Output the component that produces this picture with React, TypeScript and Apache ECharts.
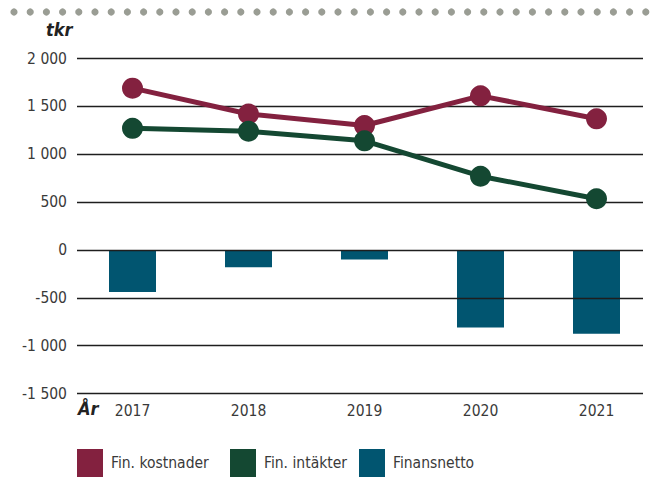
import React, { useEffect, useRef } from "react";
import * as echarts from "echarts";

const years = ["2017", "2018", "2019", "2020", "2021"];
const finKostnader = [1690, 1420, 1300, 1610, 1370];
const finIntakter = [1270, 1240, 1140, 770, 535];
const finansnetto = [-440, -180, -100, -810, -875];
const yTicks = { min: -1500, max: 2000, interval: 500 };
const legendNames = ["Fin. kostnader", "Fin. intäkter", "Finansnetto"];

const FONT = "'DejaVu Sans Condensed', 'Roboto', sans-serif";
const TEXT = "#3a3a3a";

export default function App() {
  const ref = useRef<HTMLDivElement>(null);
  useEffect(() => {
    if (!ref.current) return;
    const chart = echarts.init(ref.current, undefined, { renderer: "svg" });
    const dots: any[] = [];
    for (let i = 0; i < 41; i++) {
      dots.push({
        type: "circle",
        shape: { cx: 14 + i * 16.2, cy: 12, r: 3.6 },
        style: { fill: "#9a9d94" },
        silent: true,
      });
    }
    const fmt = (v: number) => {
      const s = Math.abs(v).toString();
      const t = s.length > 3 ? s.slice(0, s.length - 3) + " " + s.slice(-3) : s;
      return (v < 0 ? "-" : "") + t;
    };
    const legendLefts = [77, 230, 359];
    chart.setOption({
      animation: false,
      textStyle: { fontFamily: FONT },
      grid: [
        { left: 77, right: 15, top: 58.5, bottom: 83.5 },
        { left: 74.5, right: 3.5, top: 58.5, bottom: 83.5 },
      ],
      xAxis: [
        { gridIndex: 0, type: "category", data: years, show: false },
        {
          gridIndex: 1,
          type: "category",
          data: years,
          axisLine: { show: false },
          axisTick: { show: false },
          axisLabel: { color: TEXT, fontSize: 15.5, fontFamily: FONT, margin: 9 },
        },
      ],
      yAxis: [
        {
          gridIndex: 0,
          type: "value",
          min: yTicks.min,
          max: yTicks.max,
          interval: yTicks.interval,
          z: 2,
          axisLine: { show: false },
          axisTick: { show: false },
          splitLine: { show: true, lineStyle: { color: "#1e1e1e", width: 1.4 } },
          axisLabel: { color: TEXT, fontSize: 15.5, fontFamily: FONT, margin: 10, formatter: fmt },
        },
        {
          gridIndex: 1,
          type: "value",
          min: yTicks.min,
          max: yTicks.max,
          interval: yTicks.interval,
          show: false,
          splitLine: { show: false },
        },
      ],
      legend: legendNames.map((n, i) => ({
        left: legendLefts[i],
        top: 449,
        padding: 0,
        icon: "rect",
        itemWidth: 26,
        itemHeight: 28,
        data: [n],
        textStyle: { color: TEXT, fontSize: 15.5, fontFamily: FONT, padding: [6, 0, 0, 3] },
      })),
      series: [
        {
          name: "Finansnetto",
          type: "bar",
          xAxisIndex: 1,
          yAxisIndex: 1,
          data: finansnetto,
          barWidth: 47,
          itemStyle: { color: "#015570" },
          z: 1,
        },
        {
          name: "Fin. kostnader",
          type: "line",
          xAxisIndex: 1,
          yAxisIndex: 1,
          data: finKostnader,
          symbol: "circle",
          symbolSize: 21,
          lineStyle: { width: 5, color: "#83213F" },
          itemStyle: { color: "#83213F" },
          z: 3,
        },
        {
          name: "Fin. intäkter",
          type: "line",
          xAxisIndex: 1,
          yAxisIndex: 1,
          data: finIntakter,
          symbol: "circle",
          symbolSize: 21,
          lineStyle: { width: 5, color: "#144832" },
          itemStyle: { color: "#144832" },
          z: 3,
        },
      ],
      graphic: [
        ...dots,
        {
          type: "text",
          left: 46,
          top: 20,
          style: { text: "tkr", font: `italic bold 18px ${FONT}`, fill: "#222" },
        },
        {
          type: "text",
          left: 78,
          top: 399,
          style: { text: "År", font: `italic bold 18px ${FONT}`, fill: "#222" },
        },
      ],
    });
    return () => chart.dispose();
  }, []);
  return (
    <div
      ref={ref}
      style={{ position: "absolute", left: 0, top: 0, width: 658, height: 477 }}
    />
  );
}
